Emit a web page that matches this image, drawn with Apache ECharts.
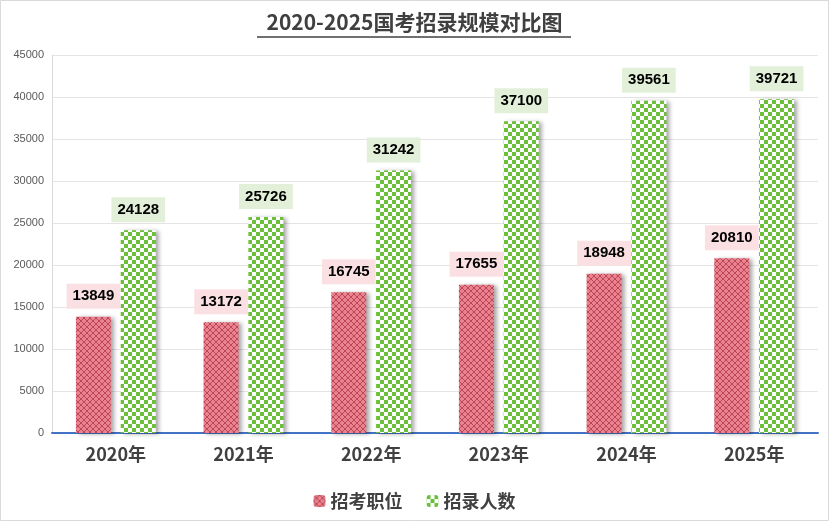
<!DOCTYPE html>
<html><head><meta charset="utf-8">
<script src="https://cdn.jsdelivr.net/npm/echarts@6/dist/echarts.min.js"></script>
<style>html,body{margin:0;padding:0;background:#fff}#c{width:829px;height:521px}</style>
</head><body><div id="c"></div>
<script>
const categories = ['2020年','2021年','2022年','2023年','2024年','2025年'];
const positions = [13849,13172,16745,17655,18948,20810];
const applicants = [24128,25726,31242,37100,39561,39721];
const yTicks = {min:0, max:45000, interval:5000};

function crossPattern(){
  const c=document.createElement('canvas');c.width=6;c.height=6;const g=c.getContext('2d');
  g.fillStyle='#e8838f';g.fillRect(0,0,6,6);
  g.strokeStyle='#b8404f';g.lineWidth=0.9;
  g.beginPath();g.moveTo(0,0);g.lineTo(6,6);g.moveTo(6,0);g.lineTo(0,6);g.stroke();
  return c;
}
function checkPattern(){
  const c=document.createElement('canvas');c.width=8;c.height=8;const g=c.getContext('2d');
  g.fillStyle='#ffffff';g.fillRect(0,0,8,8);
  g.fillStyle='#6cbf3a';g.fillRect(0,0,4,4);g.fillRect(4,4,4,4);
  return c;
}
const shadow={shadowBlur:4,shadowOffsetX:3,shadowOffsetY:1,shadowColor:'rgba(0,0,0,0.35)'};
const chart=echarts.init(document.getElementById('c'));
chart.setOption({
  animation:false,
  title:{text:'2020-2025国考招录规模对比图',left:'center',top:7,
    textStyle:{fontSize:21,fontWeight:'bold',color:'#404040',fontFamily:'Noto Sans CJK SC'}},
  graphic:[{type:'line',shape:{x1:257,y1:37,x2:571,y2:37},style:{stroke:'#404040',lineWidth:1.5}},
    {type:'rect',shape:{x:0.5,y:0.5,width:828,height:520},style:{fill:'none',stroke:'#d9d9d9'}}],
  legend:{bottom:6,itemWidth:12,itemHeight:12,itemGap:24,
    textStyle:{fontSize:18,fontWeight:'bold',color:'#404040',fontFamily:'Noto Sans CJK SC'},
    data:['招考职位','招录人数']},
  grid:{left:52,right:11,top:55,bottom:88},
  xAxis:{type:'category',data:categories,
    axisLine:{lineStyle:{color:'#4472c4',width:2}},axisTick:{show:false},
    axisLabel:{fontSize:18,fontWeight:'bold',color:'#404040',margin:12,fontFamily:'Noto Sans CJK SC'}},
  yAxis:{type:'value',min:yTicks.min,max:yTicks.max,interval:yTicks.interval,
    axisLine:{show:true,lineStyle:{color:'#d9d9d9'}},
    axisLabel:{fontSize:11,color:'#595959',formatter:v=>String(v)},splitLine:{lineStyle:{color:'#e4e4e4'}}},
  series:[
    {name:'招考职位',type:'bar',data:positions,barWidth:35,barGap:'28%',
      itemStyle:Object.assign({color:{image:crossPattern(),repeat:'repeat'}},shadow),
      label:{show:true,position:'top',distance:8,fontSize:15,fontWeight:'bold',color:'#000',
        backgroundColor:'#fbe0e3',padding:[5,6]}},
    {name:'招录人数',type:'bar',data:applicants,barWidth:35,
      itemStyle:Object.assign({color:{image:checkPattern(),repeat:'repeat'}},shadow),
      label:{show:true,position:'top',distance:8,fontSize:15,fontWeight:'bold',color:'#000',
        backgroundColor:'#e2f0d9',padding:[5,6]}}
  ]
});
</script></body></html>
